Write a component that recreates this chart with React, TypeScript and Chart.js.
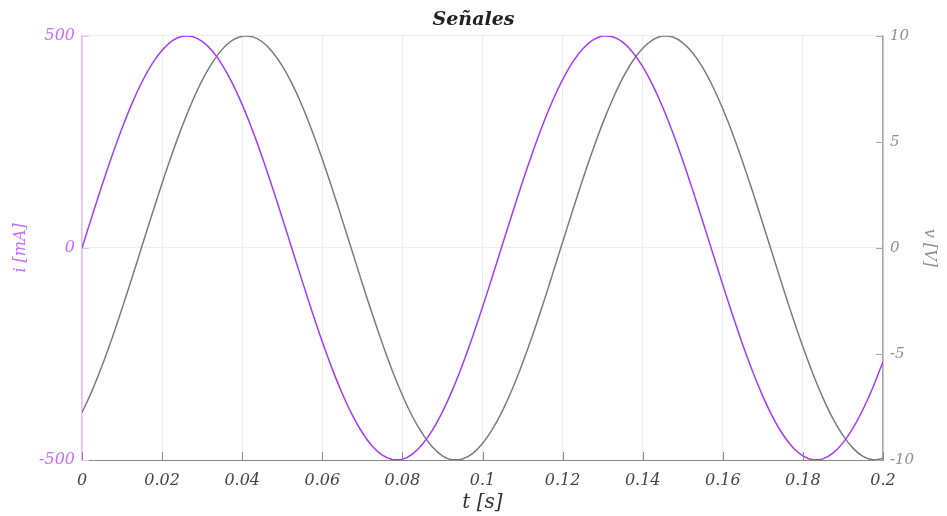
import React, { useEffect, useRef } from 'react';
import { Chart, registerables } from 'chart.js';

Chart.register(...registerables);

// time samples [s]
const timeS = [
  0, 0.0025, 0.005, 0.0075, 0.01, 0.0125, 0.015, 0.0175, 0.02, 0.0225,
  0.025, 0.0275, 0.03, 0.0325, 0.035, 0.0375, 0.04, 0.0425, 0.045, 0.0475,
  0.05, 0.0525, 0.055, 0.0575, 0.06, 0.0625, 0.065, 0.0675, 0.07, 0.0725,
  0.075, 0.0775, 0.08, 0.0825, 0.085, 0.0875, 0.09, 0.0925, 0.095, 0.0975,
  0.1, 0.1025, 0.105, 0.1075, 0.11, 0.1125, 0.115, 0.1175, 0.12, 0.1225,
  0.125, 0.1275, 0.13, 0.1325, 0.135, 0.1375, 0.14, 0.1425, 0.145, 0.1475,
  0.15, 0.1525, 0.155, 0.1575, 0.16, 0.1625, 0.165, 0.1675, 0.17, 0.1725,
  0.175, 0.1775, 0.18, 0.1825, 0.185, 0.1875, 0.19, 0.1925, 0.195, 0.1975,
  0.2,
];

// current i [mA]
const currentMA = [
  0, 74.7, 147.8, 217.5, 282.3, 340.8, 391.7, 433.7, 466.0, 487.9,
  498.7, 498.4, 486.9, 464.5, 431.6, 389.0, 337.7, 278.8, 213.7, 143.7,
  70.6, -4.2, -78.9, -151.8, -221.3, -285.8, -343.9, -394.3, -435.8, -467.6,
  -488.8, -499.0, -498.1, -486.0, -462.9, -429.5, -386.4, -334.6, -275.3, -209.9,
  -139.7, -66.4, 8.4, 83.0, 155.8, 225.0, 289.2, 346.9, 396.8, 437.8,
  469.0, 489.6, 499.3, 497.7, 484.9, 461.3, 427.3, 383.7, 331.5, 271.8,
  206.1, 135.7, 62.2, -12.6, -87.2, -159.8, -228.8, -292.6, -349.9, -399.4,
  -439.9, -470.4, -490.5, -499.5, -497.3, -483.9, -459.7, -425.1, -381.0, -328.4,
  -268.3,
];

// voltage v [V]
const voltageV = [
  -7.77, -6.74, -5.56, -4.26, -2.86, -1.40, 0.10, 1.59, 3.05, 4.44,
  5.73, 6.89, 7.90, 8.72, 9.36, 9.78, 9.98, 9.96, 9.72, 9.25,
  8.58, 7.72, 6.68, 5.49, 4.18, 2.78, 1.31, -0.18, -1.68, -3.13,
  -4.51, -5.80, -6.95, -7.95, -8.76, -9.39, -9.80, -9.99, -9.95, -9.70,
  -9.22, -8.54, -7.67, -6.63, -5.43, -4.12, -2.71, -1.23, 0.27, 1.76,
  3.21, 4.59, 5.87, 7.01, 8.00, 8.81, 9.41, 9.81, 9.99, 9.94,
  9.67, 9.19, 8.50, 7.61, 6.56, 5.36, 4.03, 2.62, 1.14, -0.35,
  -1.84, -3.29, -4.66, -5.93, -7.07, -8.05, -8.84, -9.44, -9.83, -9.99,
  -9.93,
];

const titleText = 'Señales';
const xTitle = 't [s]';
const yLeftTitle = 'i [mA]';
const yRightTitle = 'v [V]';

const FONT = "'DejaVu Serif', serif";
const PURPLE = '#a43cff';
const PURPLE_LABEL = '#c56bff';
const PURPLE_AXIS = '#e2beff';
const GRAY = '#7c7c7c';
const GRAY_AXIS = '#a8a8a8';

const innerTicks = {
  id: 'innerTicks',
  afterDraw(chart: any) {
    const { ctx, chartArea, scales } = chart;
    ctx.save();
    ctx.lineWidth = 1;
    const x = scales.x;
    ctx.strokeStyle = '#8a8a8a';
    x.ticks.forEach((t: any) => {
      const px = Math.round(x.getPixelForValue(t.value)) + 0.5;
      ctx.beginPath();
      ctx.moveTo(px, chartArea.bottom);
      ctx.lineTo(px, chartArea.bottom - 8);
      ctx.stroke();
    });
    const yl = scales.y;
    ctx.strokeStyle = PURPLE_AXIS;
    yl.ticks.forEach((t: any) => {
      const py = Math.round(yl.getPixelForValue(t.value)) + 0.5;
      ctx.beginPath();
      ctx.moveTo(chartArea.left, py);
      ctx.lineTo(chartArea.left + 7, py);
      ctx.stroke();
    });
    const yr = scales.y1;
    ctx.strokeStyle = GRAY_AXIS;
    yr.ticks.forEach((t: any) => {
      const py = Math.round(yr.getPixelForValue(t.value)) + 0.5;
      ctx.beginPath();
      ctx.moveTo(chartArea.right, py);
      ctx.lineTo(chartArea.right - 7, py);
      ctx.stroke();
    });
    ctx.restore();
  },
};

export default function App() {
  const ref = useRef<HTMLCanvasElement | null>(null);

  useEffect(() => {
    if (!ref.current) return;
    const chart = new Chart(ref.current, {
      type: 'line',
      data: {
        datasets: [
          {
            label: 'i',
            data: timeS.map((t, k) => ({ x: t, y: currentMA[k] })),
            borderColor: PURPLE,
            borderWidth: 1.5,
            pointRadius: 0,
            tension: 0.4,
            yAxisID: 'y',
          },
          {
            label: 'v',
            data: timeS.map((t, k) => ({ x: t, y: voltageV[k] })),
            borderColor: GRAY,
            borderWidth: 1.5,
            pointRadius: 0,
            tension: 0.4,
            yAxisID: 'y1',
          },
        ],
      },
      options: {
        animation: false,
        responsive: true,
        maintainAspectRatio: false,
        layout: { padding: 0 },
        plugins: {
          legend: { display: false },
          tooltip: { enabled: false },
          title: {
            display: true,
            text: titleText,
            color: '#222',
            font: { family: FONT, size: 19, style: 'italic', weight: 'bold' },
            padding: { top: 9, bottom: 4 },
          },
        },
        scales: {
          x: {
            type: 'linear',
            min: 0,
            max: 0.2,
            afterFit: (s: any) => { s.height = 56; },
            ticks: {
              stepSize: 0.02,
              color: '#444',
              padding: 11,
              maxRotation: 0,
              font: { family: FONT, size: 16, style: 'italic' },
              callback: (v: any) => String(Number(Number(v).toFixed(2))),
            },
            grid: { color: '#ececec', drawTicks: false, lineWidth: 1 },
            border: { color: '#8a8a8a', width: 1 },
            title: {
              display: true,
              text: xTitle,
              color: '#333',
              font: { family: FONT, size: 20, style: 'italic' },
              padding: { top: 0, bottom: 1 },
            },
          },
          y: {
            type: 'linear',
            position: 'left',
            min: -500,
            max: 500,
            afterFit: (s: any) => { s.width = 82; },
            ticks: {
              stepSize: 500,
              color: PURPLE_LABEL,
              padding: 7,
              font: { family: FONT, size: 16, style: 'italic' },
            },
            grid: { color: '#f3e8ff', drawTicks: false },
            border: { color: PURPLE_AXIS, width: 1.5 },
            title: {
              display: true,
              text: yLeftTitle,
              color: PURPLE_LABEL,
              font: { family: FONT, size: 16, style: 'italic' },
              padding: { top: 11, bottom: 0 },
            },
          },
          y1: {
            type: 'linear',
            position: 'right',
            min: -10,
            max: 10,
            afterFit: (s: any) => { s.width = 64; },
            ticks: {
              stepSize: 5,
              color: '#8e8e8e',
              padding: 7,
              font: { family: FONT, size: 15, style: 'italic' },
            },
            grid: { drawOnChartArea: false, drawTicks: false },
            border: { color: GRAY_AXIS, width: 1.5 },
            title: {
              display: true,
              text: yRightTitle,
              color: '#8e8e8e',
              font: { family: FONT, size: 16, style: 'italic' },
              padding: { top: 8, bottom: 0 },
            },
          },
        },
      },
      plugins: [innerTicks],
    } as any);
    return () => chart.destroy();
  }, []);

  return (
    <div style={{ position: 'fixed', left: 0, top: 0, width: 947, height: 516, background: '#fff' }}>
      <canvas ref={ref} />
    </div>
  );
}
